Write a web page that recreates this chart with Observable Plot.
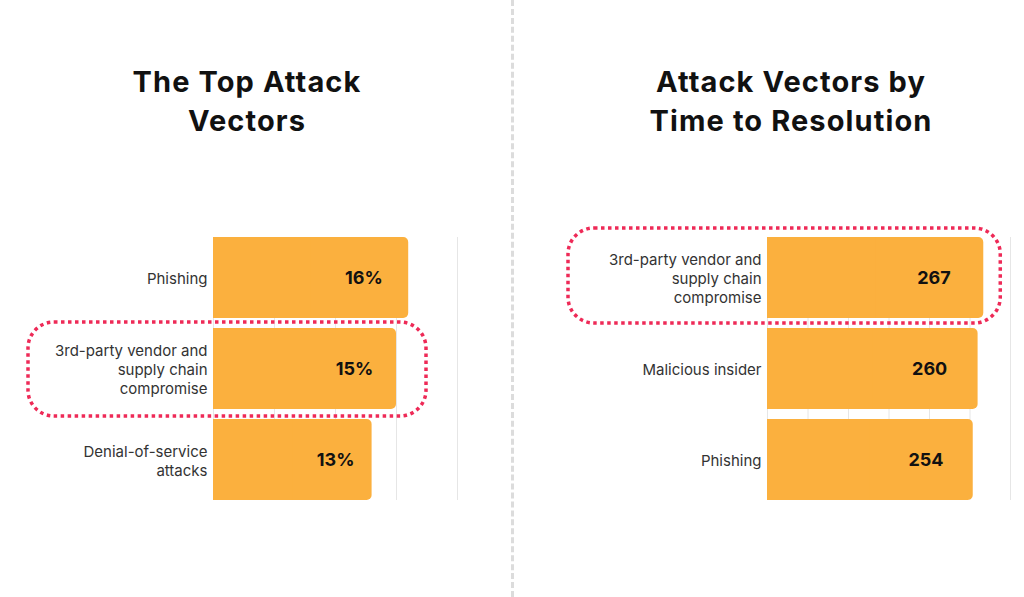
<!DOCTYPE html>
<html>
<head>
<meta charset="utf-8">
<script src="https://cdn.jsdelivr.net/npm/d3@7"></script>
<script src="https://cdn.jsdelivr.net/npm/@observablehq/plot@0.6"></script>
<style>
  html, body { margin: 0; padding: 0; background: #fff; }
  #wrap { position: relative; width: 1024px; height: 597px; overflow: hidden; font-family: Inter, "DejaVu Sans", sans-serif; }
  .title { position: absolute; top: 62px; width: 440px; text-align: center; font-weight: 700; font-size: 29px; line-height: 39px; color: #111; letter-spacing: 1.1px; }
  .divider { position: absolute; left: 511px; top: 0; width: 0; height: 597px; border-left: 3px dashed #dcdcdc; }
  .chart { position: absolute; top: 0; }
</style>
</head>
<body>
<div id="wrap">
  <div class="title" style="left:27px">The Top Attack<br>Vectors</div>
  <div class="title" style="left:571px">Attack Vectors by<br>Time to Resolution</div>
  <div class="divider"></div>
  <div class="chart" id="left" style="left:0px"></div>
  <div class="chart" id="right" style="left:512px"></div>
</div>
<script>
// ---- Data: left chart (share of attacks, %)
const leftCategories = ["Phishing", "3rd-party vendor and supply chain compromise", "Denial-of-service attacks"];
const leftLabels = ["Phishing", "3rd-party vendor and\nsupply chain\ncompromise", "Denial-of-service\nattacks"];
const leftValues = [16, 15, 13];
const leftTicks = [0, 5, 10, 15, 20];
const leftHighlight = "3rd-party vendor and supply chain compromise";

// ---- Data: right chart (time to resolution, days)
const rightCategories = ["3rd-party vendor and supply chain compromise", "Malicious insider", "Phishing"];
const rightLabels = ["3rd-party vendor and\nsupply chain\ncompromise", "Malicious insider", "Phishing"];
const rightValues = [267, 260, 254];
const rightTicks = [0, 50, 100, 150, 200, 250, 300];
const rightHighlight = "3rd-party vendor and supply chain compromise";

const BAR = "#FBB03E";
const HL = "#EE2A57";
const FONT = "Inter, 'DejaVu Sans', sans-serif";

function makeChart({categories, labels, values, ticks, highlight, fmt, labelFrac, marginLeft, marginRight, hlInsets}) {
  const data = categories.map((c, i) => ({cat: c, label: labels[i], value: values[i], text: fmt(values[i])}));
  const hl = data.filter(d => d.cat === highlight);
  return Plot.plot({
    width: 512,
    height: 597,
    marginTop: 237,
    marginBottom: 97,
    marginLeft,
    marginRight,
    style: {fontFamily: FONT, background: "transparent", overflow: "visible"},
    x: {domain: [ticks[0], ticks[ticks.length - 1]], axis: null},
    y: {domain: categories, axis: null, paddingInner: 0.11, paddingOuter: 0},
    marks: [
      Plot.ruleX(ticks, {stroke: "#e6e6e6", strokeWidth: 1}),
      Plot.barX(data, {y: "cat", x1: 0, x2: "value", fill: BAR, rx: 5}),
      Plot.barX(data, {y: "cat", x1: 0, x2: d => d.value / 2, fill: BAR}),
      Plot.text(data, {y: "cat", x: d => d.value * labelFrac, text: "text", fontSize: 18, fontWeight: 700, fill: "#111", textAnchor: "middle"}),
      Plot.text(data, {y: "cat", text: "label", frameAnchor: "left", textAnchor: "end", dx: -6, fontSize: 15, lineHeight: 1.27, fill: "#333", style: "letter-spacing:1px"}),
      Plot.barX(hl, {y: "cat", x1: 0, x2: "value", fill: "none", stroke: HL, strokeWidth: 3.5, strokeDasharray: "3.5,3.5", rx: 26, ...hlInsets})
    ]
  });
}

document.getElementById("left").append(makeChart({
  categories: leftCategories, labels: leftLabels, values: leftValues, ticks: leftTicks, highlight: leftHighlight,
  fmt: v => v + "%", labelFrac: 0.77, marginLeft: 213, marginRight: 55,
  hlInsets: {insetLeft: -185, insetRight: -30, insetTop: -6, insetBottom: -7}
}));
document.getElementById("right").append(makeChart({
  categories: rightCategories, labels: rightLabels, values: rightValues, ticks: rightTicks, highlight: rightHighlight,
  fmt: v => String(v), labelFrac: 0.77, marginLeft: 255, marginRight: 14,
  hlInsets: {insetLeft: -199, insetRight: -17, insetTop: -9, insetBottom: -5}
}));
</script>
</body>
</html>
